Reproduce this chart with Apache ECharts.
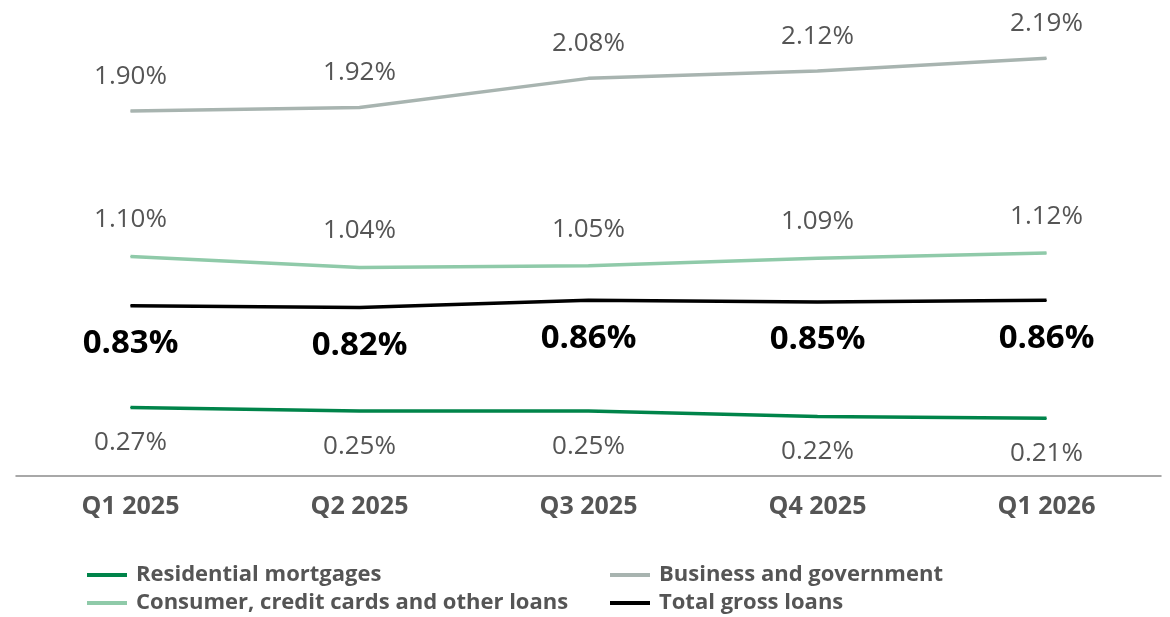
<!DOCTYPE html>
<html><head><meta charset="utf-8">
<script src="https://cdn.jsdelivr.net/npm/echarts@6/dist/echarts.min.js"></script>
<style>html,body{margin:0;padding:0;background:#fff}#c{width:1170px;height:617px}</style>
</head><body><div id="c"></div>
<script>
const categories = ['Q1 2025','Q2 2025','Q3 2025','Q4 2025','Q1 2026'];
const residential = [0.27,0.25,0.25,0.22,0.21];
const business = [1.90,1.92,2.08,2.12,2.19];
const consumer = [1.10,1.04,1.05,1.09,1.12];
const total = [0.83,0.82,0.86,0.85,0.86];
const names = ['Residential mortgages','Business and government','Consumer, credit cards and other loans','Total gross loans'];
const colors = {res:'#00844a', bus:'#a8b4b0', con:'#8fcaa9', tot:'#000000'};
const FONT = '"Open Sans", Lato, sans-serif';
const fmt = p => p.value.toFixed(2) + '%';
const lbl = (pos, dist, bold) => ({show:true, position:pos, distance:dist, formatter:fmt,
  fontFamily:FONT, fontSize: bold?33:26, fontWeight: bold?'bold':'normal', color: bold?'#000':'#555'});
const mk = (name, data, color, pos, dist, bold) => ({
  name, type:'line', data, symbol:'circle', symbolSize:1, showSymbol:true, smooth:false,
  lineStyle:{color, width:3.5}, itemStyle:{color}, label: lbl(pos, dist, bold), z: bold?5:3
});
const legendText = {fontFamily:FONT, fontSize:22, fontWeight:'bold', color:'#555', padding:[0,0,0,4]};
const chart = echarts.init(document.getElementById('c'), null, {renderer:'canvas'});
chart.setOption({
  animation:false,
  grid:{left:16, right:9, top:2, bottom:141},
  xAxis:{type:'category', data:categories, boundaryGap:true,
    axisLine:{onZero:false, lineStyle:{color:'#8c8c8c', width:1.5}}, axisTick:{show:false},
    axisLabel:{fontFamily:FONT, fontSize:25, fontWeight:'bold', color:'#555', margin:18}},
  yAxis:{type:'value', min:-0.107, max:2.5, show:false, splitLine:{show:false}},
  legend:[
    {data:[names[0], names[2]], orient:'vertical', left:87, top:564, height:60, padding:0,
     itemWidth:40, itemHeight:4, itemGap:6, icon:'rect', textStyle:legendText},
    {data:[names[1], names[3]], orient:'vertical', left:610, top:564, height:60, padding:0,
     itemWidth:40, itemHeight:4, itemGap:6, icon:'rect', textStyle:legendText}
  ],
  series:[
    mk(names[0], residential, colors.res, 'bottom', 22, false),
    mk(names[1], business, colors.bus, 'top', 21, false),
    mk(names[2], consumer, colors.con, 'top', 23, false),
    mk(names[3], total, colors.tot, 'bottom', 21, true)
  ]
});
</script></body></html>
